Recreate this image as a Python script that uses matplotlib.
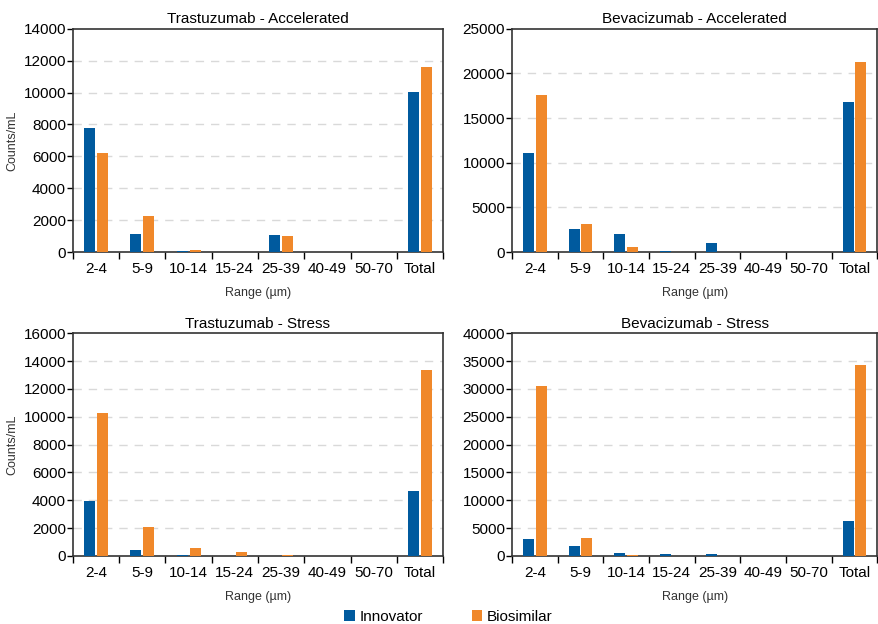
import numpy as np
import matplotlib
matplotlib.use('Agg')
import matplotlib.pyplot as plt

plt.rcParams['font.family'] = ['Liberation Sans', 'DejaVu Sans']

ranges = ['2-4', '5-9', '10-14', '15-24', '25-39', '40-49', '50-70', 'Total']

# Trastuzumab - Accelerated
tra_acc_inn = [7800, 1150, 50, 0, 1050, 0, 0, 10050]
tra_acc_bio = [6200, 2250, 150, 20, 1000, 0, 0, 11600]
# Bevacizumab - Accelerated
bev_acc_inn = [11100, 2600, 2000, 150, 1000, 0, 0, 16800]
bev_acc_bio = [17600, 3200, 600, 50, 0, 0, 0, 21300]
# Trastuzumab - Stress
tra_str_inn = [3950, 450, 100, 30, 20, 0, 0, 4650]
tra_str_bio = [10250, 2100, 600, 300, 60, 0, 0, 13350]
# Bevacizumab - Stress
bev_str_inn = [3000, 1800, 500, 350, 400, 0, 0, 6300]
bev_str_bio = [30500, 3300, 250, 50, 0, 0, 0, 34300]

BLUE = '#005a9e'
ORANGE = '#f0882a'

panels = [
    ('Trastuzumab - Accelerated', tra_acc_inn, tra_acc_bio, 14000, 2000, [0.083, 0.596, 0.421, 0.358], True),
    ('Bevacizumab - Accelerated', bev_acc_inn, bev_acc_bio, 25000, 5000, [0.5825, 0.596, 0.4155, 0.358], False),
    ('Trastuzumab - Stress', tra_str_inn, tra_str_bio, 16000, 2000, [0.083, 0.109, 0.421, 0.357], True),
    ('Bevacizumab - Stress', bev_str_inn, bev_str_bio, 40000, 5000, [0.5825, 0.109, 0.4155, 0.357], False),
]

fig = plt.figure(figsize=(8.79, 6.24), dpi=100)

x = np.arange(len(ranges))
w = 0.24
for title, inn, bio, ymax, step, rect, ylab in panels:
    ax = fig.add_axes(rect)
    ax.bar(x - 0.14, inn, width=w, color=BLUE, linewidth=0, zorder=3, label='Innovator')
    ax.bar(x + 0.14, bio, width=w, color=ORANGE, linewidth=0, zorder=3, label='Biosimilar')
    ax.set_xlim(-0.5, len(ranges) - 0.5)
    ax.set_ylim(0, ymax)
    yt = np.arange(0, ymax + 1, step)
    ax.set_yticks(yt)
    for v in yt[1:-1]:
        ax.axhline(v, color='#d9d9d9', linestyle=(0, (6, 5)), linewidth=1, zorder=1)
    ax.set_xticks(x)
    ax.set_xticklabels(ranges)
    ax.set_xticks(np.arange(-0.5, len(ranges)), minor=True)
    ax.tick_params(axis='x', which='major', length=0, labelsize=11, pad=7)
    ax.tick_params(axis='x', which='minor', length=5, width=1, direction='out')
    ax.tick_params(axis='y', length=4, width=1, direction='out', labelsize=11, pad=1)
    for s in ax.spines.values():
        s.set_color('#333333')
        s.set_linewidth(1.2)
    ax.set_title(title, fontsize=11, pad=4)
    ax.set_xlabel('Range (\u00b5m)', fontsize=9, color='#333333', labelpad=8)
    if ylab:
        ax.set_ylabel('Counts/mL', fontsize=9, color='#333333', labelpad=4)

h, l = ax.get_legend_handles_labels()
fig.legend(h, l, loc='lower center', bbox_to_anchor=(0.51, -0.022), ncol=2, frameon=False,
           fontsize=11, handlelength=0.7, handleheight=0.7, handletextpad=0.3, columnspacing=3.2)

plt.savefig('out.png', dpi=100)
